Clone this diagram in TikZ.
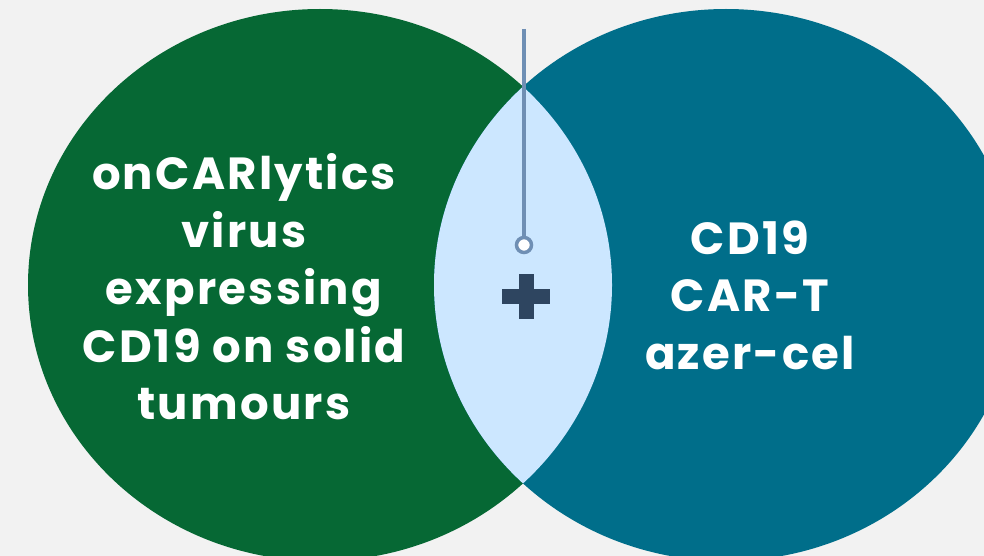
\documentclass[tikz,border=0pt]{standalone}
\usepackage{fontspec}
\setmainfont{Poppins}[LetterSpace=5]
\usetikzlibrary{positioning}

\definecolor{bgcol}{HTML}{F2F2F2}
\definecolor{leftcol}{HTML}{066834}
\definecolor{rightcol}{HTML}{006E8A}
\definecolor{lenscol}{HTML}{CCE7FF}
\definecolor{pincol}{HTML}{6F8FB4}
\definecolor{pluscol}{HTML}{2E4560}

\tikzset{
  setlabel/.style={text=white, font=\bfseries\fontsize{45}{57.5}\selectfont, align=center, inner sep=0pt},
  pinmark/.style={circle, fill=white, draw=pincol, line width=3.5pt, minimum size=15pt, inner sep=0pt},
  pinline/.style={draw=pincol, line width=4pt}
}

\begin{document}
\begin{tikzpicture}[x=1pt,y=-1pt]
% Canvas
\useasboundingbox (0,0) rectangle (984,556);
\clip (0,0) rectangle (984,556);
\fill[bgcol] (0,0) rectangle (984,556);

% The two sets
\fill[leftcol] (320,285) ellipse (292 and 276);
\fill[rightcol] (726,285) ellipse (292 and 276);

% Overlap
\begin{scope}
  \clip (320,285) ellipse (292 and 276);
  \fill[lenscol] (726,285) ellipse (292 and 276);
\end{scope}

% Pointer
\coordinate (pintop) at (524,29);
\node[pinmark] (pin) at (524,245) {};
\draw[pinline] (pintop) -- (pin);

% Plus sign
\fill[pluscol] (502,289) rectangle (550,304);
\fill[pluscol] (518.5,274) rectangle (533.5,319);

% Labels
\node[setlabel] (virus) at (244,287) {onCARlytics\\virus\\expressing\\CD19 on solid\\tumours};
\node[setlabel] (cart) at (750,295) {CD19\\CAR-T\\azer-cel};
\end{tikzpicture}
\end{document}
